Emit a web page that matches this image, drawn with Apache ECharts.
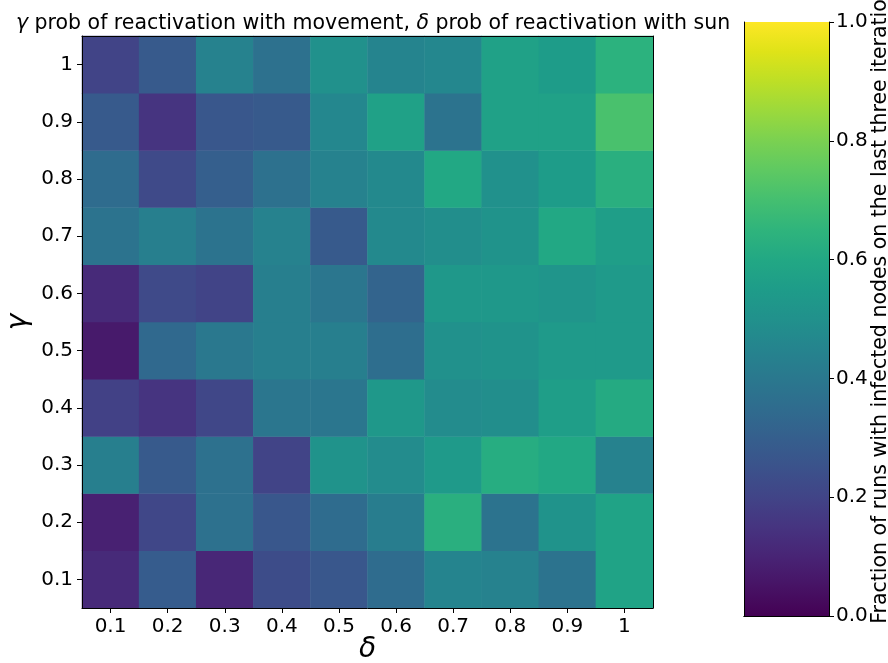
<!DOCTYPE html>
<html>
<head>
<meta charset="utf-8">
<script src="https://cdn.jsdelivr.net/npm/echarts@6/dist/echarts.min.js"></script>
<style>
  html, body { margin: 0; padding: 0; background: #fff; }
  #chart { width: 888px; height: 663px; }
</style>
</head>
<body>
<div id="chart"></div>
<script>
// δ (columns) and γ (rows, bottom to top)
const deltaLabels = ['0.1', '0.2', '0.3', '0.4', '0.5', '0.6', '0.7', '0.8', '0.9', '1'];
const gammaLabels = ['0.1', '0.2', '0.3', '0.4', '0.5', '0.6', '0.7', '0.8', '0.9', '1'];

// Fraction of runs with infected nodes, one row per γ (γ = 0.1 first), columns follow δ
const fraction = [
  [0.12, 0.29, 0.11, 0.23, 0.27, 0.35, 0.45, 0.44, 0.38, 0.58],
  [0.09, 0.21, 0.37, 0.27, 0.35, 0.42, 0.63, 0.38, 0.51, 0.58],
  [0.43, 0.28, 0.37, 0.20, 0.51, 0.48, 0.54, 0.62, 0.60, 0.44],
  [0.19, 0.15, 0.21, 0.39, 0.39, 0.53, 0.48, 0.49, 0.56, 0.61],
  [0.07, 0.34, 0.40, 0.43, 0.43, 0.36, 0.50, 0.51, 0.54, 0.54],
  [0.12, 0.22, 0.20, 0.43, 0.39, 0.32, 0.53, 0.53, 0.52, 0.54],
  [0.38, 0.43, 0.38, 0.44, 0.28, 0.47, 0.49, 0.51, 0.60, 0.56],
  [0.35, 0.22, 0.30, 0.37, 0.44, 0.47, 0.60, 0.50, 0.55, 0.63],
  [0.28, 0.15, 0.27, 0.28, 0.46, 0.57, 0.38, 0.57, 0.57, 0.71],
  [0.20, 0.28, 0.44, 0.37, 0.50, 0.45, 0.46, 0.57, 0.55, 0.64]
];

// Colour bar scale
const colorbarTicks = [0, 0.2, 0.4, 0.6, 0.8, 1.0];
const colorbarLabel = 'Fraction of runs with infected nodes on the last three iteration';

// viridis sampled every 0.05
const viridis = [
  '#440154', '#471365', '#482475', '#463480', '#414487', '#3b528b', '#355f8d',
  '#2f6c8e', '#2a788e', '#25848e', '#21918c', '#1e9c89', '#22a884', '#2fb47c',
  '#44bf70', '#5ec962', '#7ad151', '#9bd93c', '#bddf26', '#dfe318', '#fde725'
];

const heatData = [];
fraction.forEach((row, gi) => {
  row.forEach((v, di) => heatData.push([di, gi, v]));
});

const FONT = 'DejaVu Sans';
const tickStyle = { color: '#000', fontSize: 20, fontFamily: FONT };

const chart = echarts.init(document.getElementById('chart'), null, { renderer: 'canvas' });

chart.setOption({
  animation: false,
  backgroundColor: '#ffffff',
  title: {
    text: '{i|γ} prob of reactivation with movement, {i|δ} prob of reactivation with sun',
    left: 368,
    textAlign: 'center',
    top: 8,
    textStyle: {
      fontFamily: FONT, fontSize: 20.5, fontWeight: 'normal', color: '#000',
      rich: { i: { fontFamily: FONT, fontSize: 20.5, fontStyle: 'italic', color: '#000' } }
    }
  },
  grid: [
    { left: 82, top: 36, width: 571, height: 572, outerBoundsMode: 'none', containLabel: false },
    { left: 744, top: 22, width: 85, height: 594, outerBoundsMode: 'none', containLabel: false }
  ],
  xAxis: [
    {
      gridIndex: 0, type: 'category', data: deltaLabels, position: 'bottom', z: 10,
      name: 'δ', nameLocation: 'middle', nameGap: 28, nameMoveOverlap: false,
      nameTextStyle: { fontFamily: FONT, fontSize: 28, fontStyle: 'italic', color: '#000' },
      axisLine: { show: true, lineStyle: { color: '#000', width: 1 } },
      axisTick: { show: true, alignWithLabel: true, length: 5, lineStyle: { color: '#000' } },
      axisLabel: Object.assign({ margin: 9 }, tickStyle),
      splitLine: { show: false }
    },
    {
      gridIndex: 0, type: 'category', data: deltaLabels, position: 'top', z: 10,
      axisLine: { show: true, lineStyle: { color: '#000', width: 1 } },
      axisTick: { show: false }, axisLabel: { show: false }, splitLine: { show: false }
    },
    {
      gridIndex: 1, type: 'category', data: [''], z: 10,
      axisLine: { show: true, lineStyle: { color: '#000', width: 1 } },
      axisTick: { show: false }, axisLabel: { show: false }, splitLine: { show: false }
    },
    {
      gridIndex: 1, type: 'category', data: [''], position: 'top', z: 10,
      axisLine: { show: true, lineStyle: { color: '#000', width: 1 } },
      axisTick: { show: false }, axisLabel: { show: false }, splitLine: { show: false }
    }
  ],
  yAxis: [
    {
      gridIndex: 0, type: 'category', data: gammaLabels, position: 'left', z: 10,
      name: 'γ', nameLocation: 'middle', nameGap: 49, nameRotate: 90, nameMoveOverlap: false,
      nameTextStyle: { fontFamily: FONT, fontSize: 28, fontStyle: 'italic', color: '#000' },
      axisLine: { show: true, lineStyle: { color: '#000', width: 1 } },
      axisTick: { show: true, alignWithLabel: true, length: 5, lineStyle: { color: '#000' } },
      axisLabel: Object.assign({ margin: 9 }, tickStyle),
      splitLine: { show: false }
    },
    {
      gridIndex: 0, type: 'category', data: gammaLabels, position: 'right', z: 10,
      axisLine: { show: true, lineStyle: { color: '#000', width: 1 } },
      axisTick: { show: false }, axisLabel: { show: false }, splitLine: { show: false }
    },
    {
      gridIndex: 1, type: 'value', position: 'right', min: 0, max: 1, interval: 0.2, z: 10,
      name: colorbarLabel, nameLocation: 'middle', nameGap: 41, nameRotate: 90, nameMoveOverlap: false,
      nameTextStyle: { fontFamily: FONT, fontSize: 20.5, color: '#000', padding: [0, 0, 0, 28] },
      axisLine: { show: true, lineStyle: { color: '#000', width: 1 } },
      axisTick: { show: true, length: 5, lineStyle: { color: '#000' } },
      axisLabel: Object.assign({ margin: 7, formatter: v => v.toFixed(1) }, tickStyle),
      splitLine: { show: false }
    },
    {
      gridIndex: 1, type: 'value', position: 'left', min: 0, max: 1, z: 10,
      axisLine: { show: true, lineStyle: { color: '#000', width: 1 } },
      axisTick: { show: false }, axisLabel: { show: false }, splitLine: { show: false }
    }
  ],
  visualMap: {
    show: false,
    type: 'continuous',
    min: 0, max: 1,
    seriesIndex: 0,
    dimension: 2,
    inRange: { color: viridis }
  },
  series: [
    {
      type: 'heatmap',
      xAxisIndex: 0, yAxisIndex: 0,
      data: heatData,
      itemStyle: { borderWidth: 0 },
      emphasis: { disabled: true },
      progressive: 0
    },
    {
      // colour bar: one full-height bar painted with the viridis ramp
      type: 'bar',
      xAxisIndex: 2, yAxisIndex: 2,
      data: [colorbarTicks[colorbarTicks.length - 1]],
      barWidth: '100%',
      silent: true,
      itemStyle: {
        color: {
          type: 'linear', x: 0, y: 1, x2: 0, y2: 0,
          colorStops: viridis.map((c, i) => ({ offset: i / (viridis.length - 1), color: c }))
        }
      }
    }
  ]
});
</script>
</body>
</html>
